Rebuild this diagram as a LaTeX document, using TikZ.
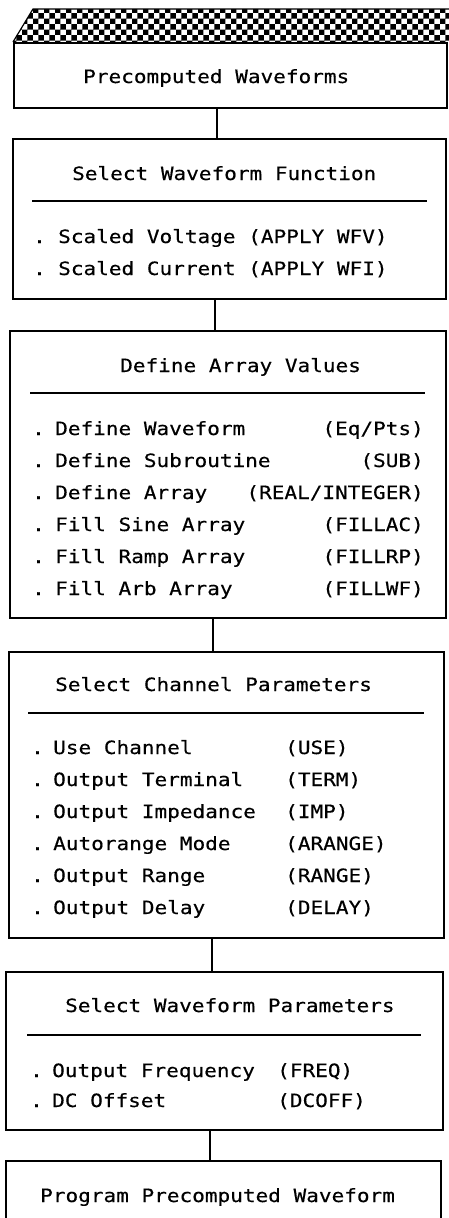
\documentclass[tikz,border=0pt]{standalone}
\usepackage{fontspec}
\newfontfamily\monofont[FakeStretch=1.15,FakeBold=0.4]{DejaVu Sans Mono}
\usetikzlibrary{patterns}
\tikzset{
  box/.style={draw, line width=1.8pt, rectangle, inner sep=0pt, anchor=north west},
  txt/.style={inner sep=0pt, anchor=base west, font=\monofont\fontsize{18.3}{20}\selectfont},
  rtxt/.style={txt, anchor=base east},
  rule/.style={line width=1.3pt},
  conn/.style={line width=1.3pt}
}
\begin{document}
\begin{tikzpicture}[x=1pt,y=-1pt]
\useasboundingbox (0,0) rectangle (449,1218);
% shaded top band
\fill[pattern=checkerboard, pattern color=black] (33,9) -- (449,9) -- (449,42) -- (13,42) -- cycle;
\draw[line width=1.2pt] (13,42) -- (33,9) -- (449,9);

% boxes
\node[box, minimum width=433pt, minimum height=65pt] (b1) at (13,42) {};
\node[box, minimum width=433pt, minimum height=160pt] (b2) at (12,138) {};
\node[box, minimum width=436pt, minimum height=287pt] (b3) at (9,330) {};
\node[box, minimum width=435pt, minimum height=286pt] (b4) at (8,651) {};
\node[box, minimum width=437pt, minimum height=158pt] (b5) at (5,971) {};
\node[box, minimum width=435pt, minimum height=80pt] (b6) at (5,1160) {};

% connector columns
\coordinate (c1) at (217,0);
\coordinate (c2) at (215,0);
\coordinate (c3) at (213,0);
\coordinate (c4) at (212,0);
\coordinate (c5) at (210,0);
\draw[conn] (b1.south -| c1) -- (b2.north -| c1);
\draw[conn] (b2.south -| c2) -- (b3.north -| c2);
\draw[conn] (b3.south -| c3) -- (b4.north -| c3);
\draw[conn] (b4.south -| c4) -- (b5.north -| c4);
\draw[conn] (b5.south -| c5) -- (b6.north -| c5);

% box 1
\node[txt] (t1) at (83,83) {Precomputed Waveforms};

% box 2
\node[txt] (t2) at (72,180) {Select Waveform Function};
\draw[rule] (32,201) -- (427,201);
\node[txt] (d21) at (33,243) {.};
\node[txt] (i21) at (58,243) {Scaled Voltage (APPLY WFV)};
\node[txt] (d22) at (33,275) {.};
\node[txt] (i22) at (58,275) {Scaled Current (APPLY WFI)};

% box 3
\node[txt] (t3) at (120,372) {Define Array Values};
\draw[rule] (30,393) -- (425,393);
\foreach \y/\l/\r [count=\i] in {435/Define Waveform/(Eq\slash Pts),
                                 467/Define Subroutine/(SUB),
                                 499/Define Array/(REAL\slash INTEGER),
                                 531/Fill Sine Array/(FILLAC),
                                 563/Fill Ramp Array/(FILLRP),
                                 595/Fill Arb Array/(FILLWF)} {
  \node[txt] (d3\i) at (32,\y) {.};
  \node[txt] (l3\i) at (55,\y) {\l};
  \node[rtxt] (r3\i) at (424,\y) {\r};
}

% box 4
\node[txt] (t4) at (55,691) {Select Channel Parameters};
\draw[rule] (28,713) -- (424,713);
\foreach \y/\l/\r [count=\i] in {754/Use Channel/(USE),
                                 786/Output Terminal/(TERM),
                                 818/Output Impedance/(IMP),
                                 850/Autorange Mode/(ARANGE),
                                 882/Output Range/(RANGE),
                                 914/Output Delay/(DELAY)} {
  \node[txt] (d4\i) at (31,\y) {.};
  \node[txt] (l4\i) at (53,\y) {\l};
  \node[txt] (r4\i) at (285,\y) {\r};
}

% box 5
\node[txt] (t5) at (65,1012) {Select Waveform Parameters};
\draw[rule] (27,1035) -- (421,1035);
\node[txt] (d51) at (30,1077) {.};
\node[txt] (l51) at (52,1077) {Output Frequency};
\node[txt] (r51) at (277,1077) {(FREQ)};
\node[txt] (d52) at (30,1107) {.};
\node[txt] (l52) at (52,1107) {DC Offset};
\node[txt] (r52) at (277,1107) {(DCOFF)};

% box 6
\node[txt] (t6) at (40,1202) {Program Precomputed Waveform};
\end{tikzpicture}
\end{document}
